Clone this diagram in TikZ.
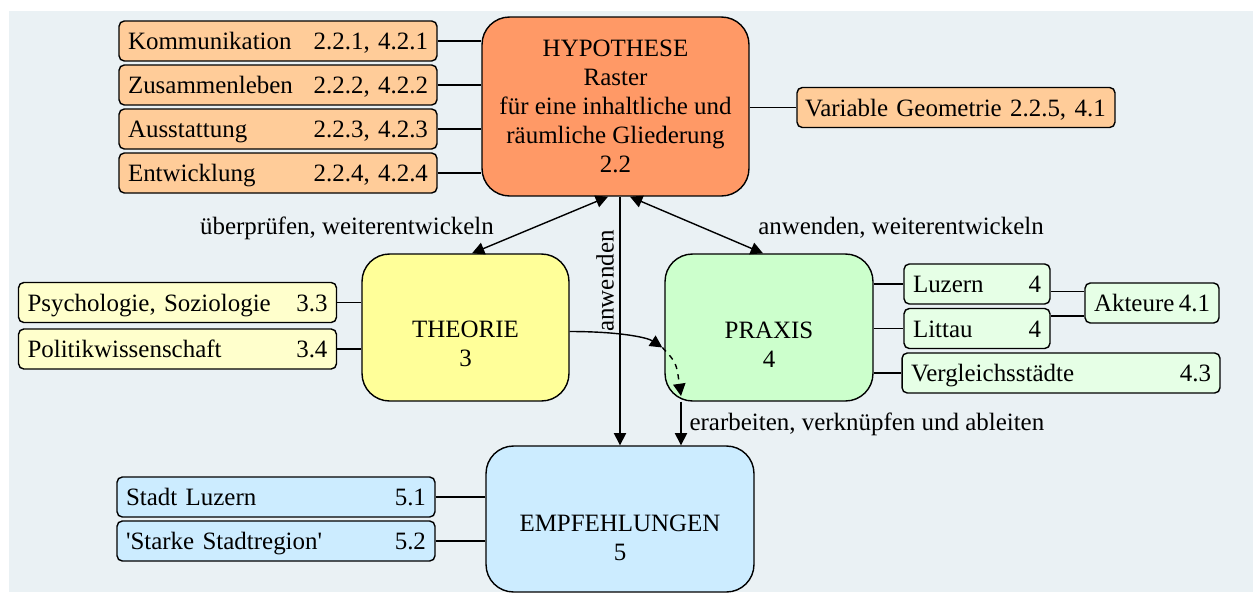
\documentclass[tikz,border=0pt]{standalone}
\usepackage{fontspec}
\setmainfont{Liberation Serif}
\usetikzlibrary{arrows.meta,calc}
\definecolor{bggrau}{HTML}{EAF1F4}
\definecolor{hyp}{HTML}{FF9966}
\definecolor{hypsub}{HTML}{FFCC99}
\definecolor{theo}{HTML}{FFFF99}
\definecolor{theosub}{HTML}{FFFFCC}
\definecolor{prax}{HTML}{CCFFCC}
\definecolor{praxsub}{HTML}{E6FFE6}
\definecolor{emp}{HTML}{CCECFF}

\begin{document}
\begin{tikzpicture}[x=0.02cm,y=-0.02cm,>={Triangle[length=7pt,width=7pt]},
  font=\fontsize{14.2}{16.5}\selectfont,line width=0.8pt,
  box/.style={draw,line width=0.8pt,rounded corners=0.55cm},
  sub/.style={draw,line width=0.8pt,rounded corners=3pt,inner xsep=0.18cm,inner ysep=0pt,
    minimum height=0.8cm,text height=12pt,text depth=2pt,align=left,text width=6cm}]
  \useasboundingbox (0,0) rectangle (1253,592);
  \fill[bggrau] (9,11) rectangle (1253,592);
  % Hypothese
  \node[box,fill=hyp,minimum width=5.34cm,minimum height=3.58cm,align=center] (hyp) at (615.5,106.5)
    {HYPOTHESE\\Raster\\für eine inhaltliche und\\räumliche Gliederung\\2.2};
  \node[sub,fill=hypsub] (kom) at (278,41) {Kommunikation\hfill 2.2.1, 4.2.1};
  \node[sub,fill=hypsub] (zus) at (278,85) {Zusammenleben\hfill 2.2.2, 4.2.2};
  \node[sub,fill=hypsub] (aus) at (278,129) {Ausstattung\hfill 2.2.3, 4.2.3};
  \node[sub,fill=hypsub] (ent) at (278,173) {Entwicklung\hfill 2.2.4, 4.2.4};
  \node[sub,fill=hypsub,inner xsep=0.16cm,text width=6.04cm] (var) at (956,107.5) {\mbox{Variable Geometrie 2.2.5, 4.1}};
  \foreach \n in {kom,zus,aus,ent} \draw (\n.east) -- (\n.east -| hyp.west);
  \draw (hyp.east |- var.west) -- (var.west);
  % Theorie
  \node[box,fill=theo,minimum width=4.14cm,minimum height=2.94cm] (theo) at (465.5,327.5) {};
  \node[align=center] (theotxt) at (465.5,344) {THEORIE\\3};
  \node[sub,fill=theosub] (psy) at (177.5,302.5) {Psychologie, Soziologie\hfill 3.3};
  \node[sub,fill=theosub] (pol) at (177.5,349) {Politikwissenschaft\hfill 3.4};
  \foreach \n in {psy,pol} \draw (\n.east) -- (\n.east -| theo.west);
  % Praxis
  \node[box,fill=prax,minimum width=4.16cm,minimum height=2.94cm] (prax) at (769,327.5) {};
  \node[align=center] (praxtxt) at (769,344.5) {PRAXIS\\4};
  \node[sub,fill=praxsub,text width=2.56cm] (luz) at (977,284) {Luzern\hfill 4};
  \node[sub,fill=praxsub,text width=2.56cm] (lit) at (977,328.5) {Littau\hfill 4};
  \node[sub,fill=praxsub] (ver) at (1061,373) {Vergleichsstädte\hfill 4.3};
  \node[sub,fill=praxsub,text width=2.32cm] (akt) at (1152,303) {Akteure\hfill 4.1};
  \foreach \n in {luz,lit,ver} \draw (\n.west -| prax.east) -- (\n.west);
  \draw ([yshift=6.5pt]akt.west) -- ([yshift=6.5pt]akt.west -| luz.east);
  \draw ([yshift=-7.5pt]akt.west) -- ([yshift=-7.5pt]akt.west -| lit.east);
  % Empfehlungen
  \node[box,fill=emp,minimum width=5.36cm,minimum height=2.92cm] (emp) at (620,519) {};
  \node[align=center] (emptxt) at (620,537.5) {EMPFEHLUNGEN\\5};
  \node[sub,fill=emp] (stl) at (276,497) {Stadt Luzern\hfill 5.1};
  \node[sub,fill=emp] (sta) at (276,541) {\textquotesingle Starke Stadtregion\textquotesingle\hfill 5.2};
  \foreach \n in {stl,sta} \draw (\n.east) -- (\n.east -| emp.west);
  % Pfeile
  \draw[<->] ($(hyp.south)+(-7.5,0)$) -- ($(theo.north)+(6.5,0)$);
  \draw[<->] ($(hyp.south)+(14.5,0)$) -- ($(prax.north)+(-6,0)$);
  \draw[->] (hyp.south -| emp.north) -- (emp.north);
  \coordinate (t1) at ($(theo.east)+(0,4)$);
  \coordinate (c1) at ($(prax.west)+(-2,20)$);
  \coordinate (c2) at (681,396);
  \draw[->] (t1) .. controls +(50,0) and +(-15,-10) .. (c1);
  \draw[->,dashed] (c1) .. controls +(14,15) .. (c2);
  \draw[->] (prax.south -| c2) -- (emp.north -| c2);
  \node (lt) at (347,228) {überprüfen, weiterentwickeln};
  \node (lp) at (901,228) {anwenden, weiterentwickeln};
  \node[rotate=90] (la) at (605,281) {anwenden};
  \node[anchor=west] (le) at (683,424) {erarbeiten, verknüpfen und ableiten};
\end{tikzpicture}
\end{document}
